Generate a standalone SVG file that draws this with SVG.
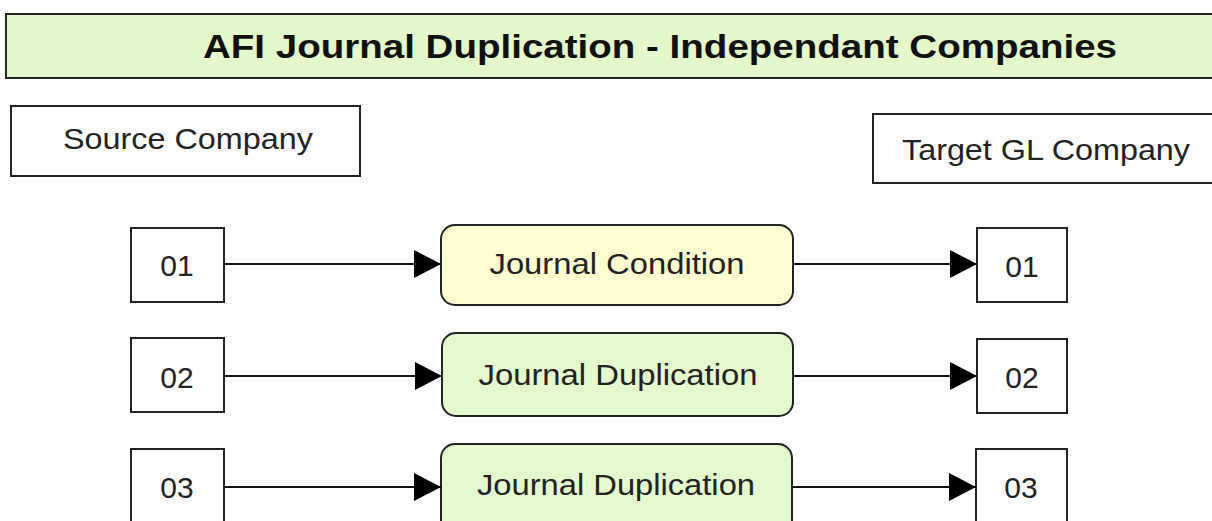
<svg xmlns="http://www.w3.org/2000/svg" width="1212" height="521" viewBox="0 0 1212 521">
<style>
.box{fill:#fff;stroke:#222;stroke-width:2}
.proc{stroke:#222;stroke-width:2}
.cond{fill:#fffdd2}
.dup{fill:#e4f9cd}
.t{font-family:"Liberation Sans",Arial,sans-serif;font-size:30px;fill:#222;text-anchor:middle}
.title{font-family:"Liberation Sans",Arial,sans-serif;font-size:33px;font-weight:bold;fill:#111;text-anchor:middle}
.conn{stroke:#111;stroke-width:2;fill:none;marker-end:url(#arr)}
</style>
<defs>
<marker id="arr" markerUnits="userSpaceOnUse" markerWidth="28" markerHeight="28" viewBox="0 0 28 28" refX="27" refY="14" orient="auto">
<polygon points="0,0 27,14 0,28" fill="#000"/>
</marker>
</defs>
<rect width="1212" height="521" fill="#fff"/>
<g id="title">
<rect x="6" y="14" width="1212" height="64" fill="#e4f8cc" stroke="#222" stroke-width="2"/>
<text class="title" x="660" y="58" textLength="914" lengthAdjust="spacingAndGlyphs">AFI Journal Duplication - Independant Companies</text>
</g>
<g id="source-company">
<rect class="box" x="11" y="106" width="349" height="70"/>
<text class="t" x="188" y="149" textLength="250" lengthAdjust="spacingAndGlyphs">Source Company</text>
</g>
<g id="target-company">
<rect class="box" x="873" y="114" width="345" height="69"/>
<text class="t" x="1046" y="160" textLength="288" lengthAdjust="spacingAndGlyphs">Target GL Company</text>
</g>
<g id="src-01">
<rect class="box" x="131" y="228" width="93" height="74"/>
<text class="t" x="177" y="276">01</text>
</g>
<g id="src-02">
<rect class="box" x="131" y="338" width="93" height="74"/>
<text class="t" x="177" y="388">02</text>
</g>
<g id="src-03">
<rect class="box" x="131" y="449" width="93" height="74"/>
<text class="t" x="177" y="498">03</text>
</g>
<g id="journal-condition">
<rect class="proc cond" x="441" y="225" width="352" height="80" rx="14"/>
<text class="t" x="617" y="274" textLength="255" lengthAdjust="spacingAndGlyphs">Journal Condition</text>
</g>
<g id="journal-duplication-2">
<rect class="proc dup" x="442" y="333" width="351" height="83" rx="14"/>
<text class="t" x="618" y="385" textLength="279" lengthAdjust="spacingAndGlyphs">Journal Duplication</text>
</g>
<g id="journal-duplication-3">
<rect class="proc dup" x="441" y="444" width="351" height="90" rx="14"/>
<text class="t" x="616" y="495" textLength="278" lengthAdjust="spacingAndGlyphs">Journal Duplication</text>
</g>
<g id="tgt-01">
<rect class="box" x="977" y="228" width="90" height="74"/>
<text class="t" x="1022" y="277">01</text>
</g>
<g id="tgt-02">
<rect class="box" x="977" y="339" width="90" height="74"/>
<text class="t" x="1022" y="388">02</text>
</g>
<g id="tgt-03">
<rect class="box" x="976" y="449" width="91" height="74"/>
<text class="t" x="1021" y="498">03</text>
</g>
<g id="connectors">
<line class="conn" x1="224" y1="264" x2="441" y2="264"/>
<line class="conn" x1="793" y1="264" x2="977" y2="264"/>
<line class="conn" x1="224" y1="376" x2="442" y2="376"/>
<line class="conn" x1="793" y1="376" x2="977" y2="376"/>
<line class="conn" x1="224" y1="487" x2="441" y2="487"/>
<line class="conn" x1="792" y1="487" x2="976" y2="487"/>
</g>
</svg>
